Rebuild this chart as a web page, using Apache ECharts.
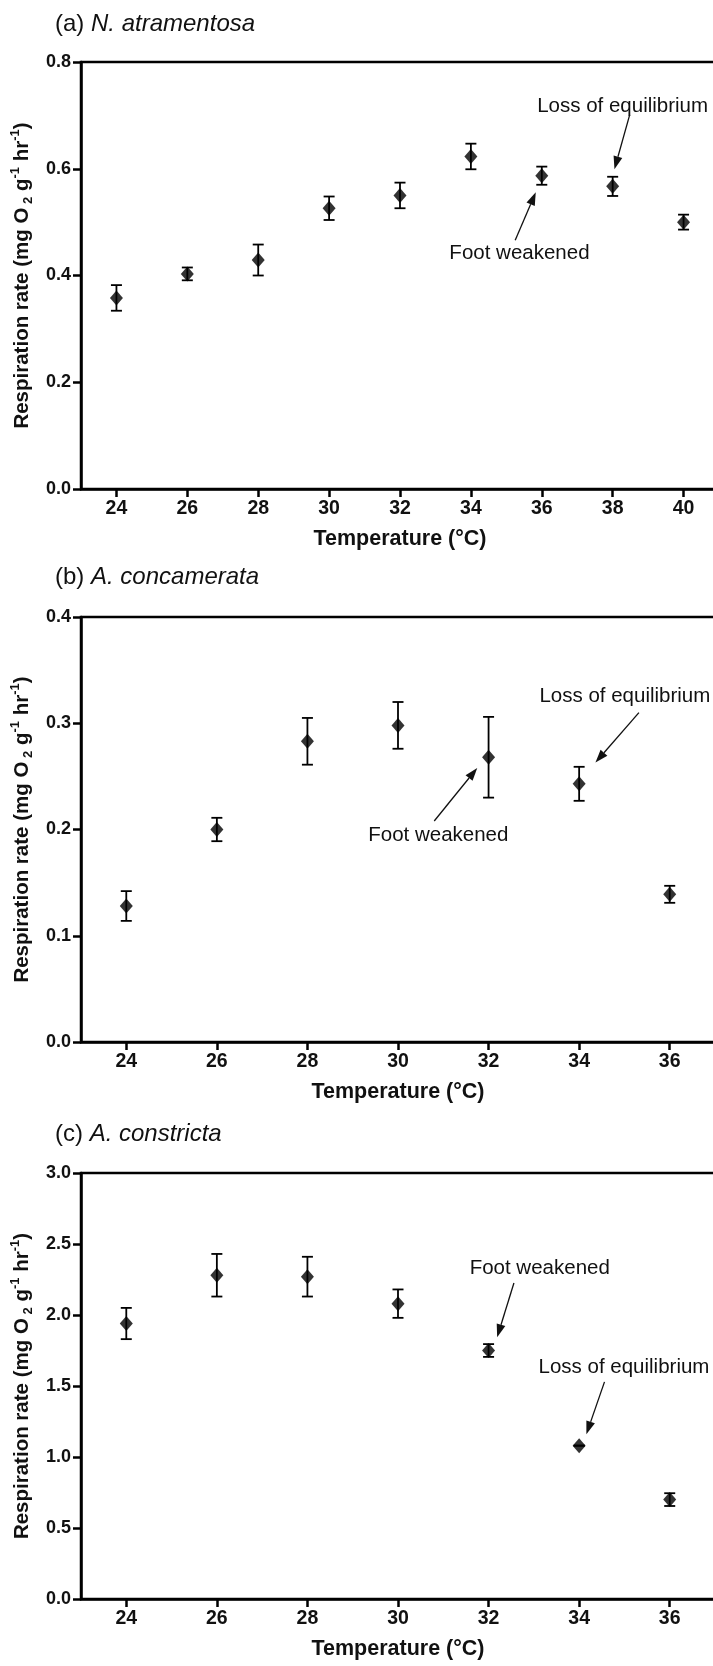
<!DOCTYPE html>
<html>
<head>
<meta charset="utf-8">
<script src="https://cdn.jsdelivr.net/npm/echarts@6/dist/echarts.min.js"></script>
<style>
  html, body { margin: 0; padding: 0; background: #fff; }
  #main { width: 713px; height: 1666px; }
</style>
</head>
<body>
<div id="main"></div>
<script>
// (a) N. atramentosa
const tempA = [24, 26, 28, 30, 32, 34, 36, 38, 40]
const rateA = [0.358, 0.403, 0.429, 0.526, 0.550, 0.623, 0.587, 0.567, 0.500]
const errA = [0.024, 0.012, 0.029, 0.022, 0.024, 0.024, 0.017, 0.018, 0.014]

// (b) A. concamerata
const tempB = [24, 26, 28, 30, 32, 34, 36]
const rateB = [0.128, 0.200, 0.283, 0.298, 0.268, 0.243, 0.139]
const errB = [0.014, 0.011, 0.022, 0.022, 0.038, 0.016, 0.008]

// (c) A. constricta
const tempC = [24, 26, 28, 30, 32, 34, 36]
const rateC = [1.94, 2.28, 2.27, 2.08, 1.75, 1.08, 0.70]
const errC = [0.11, 0.15, 0.14, 0.10, 0.045, 0, 0.045]

// tick labels
const xTicksA = [24, 26, 28, 30, 32, 34, 36, 38, 40]
const xTicksBC = [24, 26, 28, 30, 32, 34, 36]

// annotations (data coords): label centre, arrow tail, arrow tip
const notesA = [
    { text: 'Loss of equilibrium', at: [38.28, 0.717], from: [38.48, 0.701], to: [38.05, 0.599] },
    { text: 'Foot weakened', at: [35.37, 0.441], from: [35.25, 0.466], to: [35.83, 0.556] }
]
const notesB = [
    { text: 'Loss of equilibrium', at: [35.01, 0.325], from: [35.32, 0.310], to: [34.36, 0.263] },
    { text: 'Foot weakened', at: [30.89, 0.1945], from: [30.80, 0.208], to: [31.75, 0.258] }
]
const notesC = [
    { text: 'Foot weakened', at: [33.13, 2.33], from: [32.56, 2.225], to: [32.19, 1.844] },
    { text: 'Loss of equilibrium', at: [34.99, 1.634], from: [34.56, 1.529], to: [34.16, 1.161] }
]

const font = '"Liberation Sans", Arial, Helvetica, sans-serif'
const ink = '#111'

const yName = '{b|Respiration rate (mg O}{sub| 2}{b| g}{sup|-1}{b| hr}{sup|-1}{b|)}'

function titleOf(tag, species, top) {
    return {
        text: '{n|' + tag + ' }{i|' + species + '}',
        left: 55, top: top, padding: 0,
        textStyle: {
            fontWeight: 'normal',
            rich: {
                n: { fontSize: 24, fontWeight: 'normal', fontFamily: font, color: ink },
                i: { fontSize: 24, fontWeight: 'normal', fontFamily: font, fontStyle: 'italic', color: ink }
            }
        }
    }
}

function xAxisOf(i, max, ticks) {
    return {
        type: 'value', gridIndex: i, min: 23, max: max,
        name: 'Temperature (°C)', nameLocation: 'middle', nameGap: 39,
        nameTextStyle: { fontSize: 21.5, fontWeight: 'bold', color: ink, fontFamily: font },
        axisLine: { onZero: false, lineStyle: { color: '#000', width: 2.5 } },
        axisTick: { customValues: ticks, length: 8, lineStyle: { color: '#000', width: 2.5 } },
        axisLabel: { customValues: ticks, margin: 10, fontSize: 19.5, fontWeight: 'bold', color: ink, fontFamily: font },
        splitLine: { show: false }
    }
}

function yAxisOf(i, max, step) {
    return {
        type: 'value', gridIndex: i, min: 0, max: max, interval: step,
        name: yName, nameLocation: 'middle', nameRotate: 90, nameGap: 41,
        nameTextStyle: {
            color: ink,
            rich: {
                b: { fontSize: 20.5, fontWeight: 'bold', fontFamily: font, color: ink, lineHeight: 26 },
                sup: { fontSize: 13, fontWeight: 'bold', fontFamily: font, color: ink, lineHeight: 13, verticalAlign: 'top' },
                sub: { fontSize: 13, fontWeight: 'bold', fontFamily: font, color: ink, lineHeight: 13, verticalAlign: 'bottom' }
            }
        },
        axisLine: { show: true, onZero: false, lineStyle: { color: '#000', width: 2.5 } },
        axisTick: { show: true, length: 8, lineStyle: { color: '#000', width: 2.5 } },
        axisLabel: {
            margin: 10, fontSize: 18, fontWeight: 'bold', color: ink, fontFamily: font,
            formatter: v => v.toFixed(1)
        },
        splitLine: { show: false }
    }
}

// vertical error bar with caps
function errorItem(params, api) {
    const x = api.value(0)
    const top = api.coord([x, api.value(2)])
    const bot = api.coord([x, api.value(1)])
    const w = 5.5
    const st = { stroke: '#000', lineWidth: 1.8 }
    return {
        type: 'group',
        children: [
            { type: 'line', shape: { x1: top[0], y1: top[1], x2: bot[0], y2: bot[1] }, style: st },
            { type: 'line', shape: { x1: top[0] - w, y1: top[1], x2: top[0] + w, y2: top[1] }, style: st },
            { type: 'line', shape: { x1: bot[0] - w, y1: bot[1], x2: bot[0] + w, y2: bot[1] }, style: st }
        ]
    }
}

// text label + arrow
function noteItem(notes) {
    return function (params, api) {
        const n = notes[params.dataIndex]
        const t = api.coord(n.at)
        const a = api.coord(n.from)
        const b = api.coord(n.to)
        const dx = b[0] - a[0], dy = b[1] - a[1]
        const len = Math.sqrt(dx * dx + dy * dy)
        const ux = dx / len, uy = dy / len
        const hl = 13, hw = 4.5
        const bx = b[0] - ux * hl, by = b[1] - uy * hl
        return {
            type: 'group',
            children: [
                {
                    type: 'text',
                    style: {
                        text: n.text, x: t[0], y: t[1], align: 'center', verticalAlign: 'middle',
                        fontSize: 20.5, fontFamily: font, fill: ink
                    }
                },
                { type: 'line', shape: { x1: a[0], y1: a[1], x2: bx, y2: by }, style: { stroke: ink, lineWidth: 1.3 } },
                {
                    type: 'polygon',
                    shape: { points: [[b[0], b[1]], [bx - uy * hw, by + ux * hw], [bx + uy * hw, by - ux * hw]] },
                    style: { fill: ink }
                }
            ]
        }
    }
}

function panelSeries(i, temps, rates, errs, notes) {
    return [
        {
            type: 'custom', xAxisIndex: i, yAxisIndex: i, z: 2, silent: true, clip: false,
            renderItem: errorItem,
            data: temps.map((t, j) => [t, rates[j] - errs[j], rates[j] + errs[j]])
        },
        {
            type: 'scatter', xAxisIndex: i, yAxisIndex: i, z: 3, silent: true,
            symbol: 'diamond', symbolSize: [13, 15],
            itemStyle: { color: '#000' },
            data: temps.map((t, j) => [t, rates[j]])
        },
        {
            type: 'custom', xAxisIndex: i, yAxisIndex: i, z: 4, silent: true, clip: false,
            renderItem: noteItem(notes),
            data: notes.map(n => n.at)
        }
    ]
}

const gridStyle = { show: true, borderColor: '#000', borderWidth: 2.5, outerBoundsMode: 'none', containLabel: false }

var myChart = echarts.init(document.getElementById('main'), null, { renderer: 'canvas' })
myChart.setOption({
    animation: false,
    backgroundColor: '#fff',
    title: [
        titleOf('(a)', 'N. atramentosa', 12),
        titleOf('(b)', 'A. concamerata', 565),
        titleOf('(c)', 'A. constricta', 1122)
    ],
    grid: [
        Object.assign({ left: 81, top: 62, width: 638, height: 427 }, gridStyle),
        Object.assign({ left: 81, top: 617, width: 634, height: 425 }, gridStyle),
        Object.assign({ left: 81, top: 1173, width: 634, height: 426 }, gridStyle)
    ],
    xAxis: [
        xAxisOf(0, 41, xTicksA),
        xAxisOf(1, 37, xTicksBC),
        xAxisOf(2, 37, xTicksBC)
    ],
    yAxis: [
        yAxisOf(0, 0.8, 0.2),
        yAxisOf(1, 0.4, 0.1),
        yAxisOf(2, 3.0, 0.5)
    ],
    series: [].concat(
        panelSeries(0, tempA, rateA, errA, notesA),
        panelSeries(1, tempB, rateB, errB, notesB),
        panelSeries(2, tempC, rateC, errC, notesC)
    )
})
</script>
</body>
</html>
